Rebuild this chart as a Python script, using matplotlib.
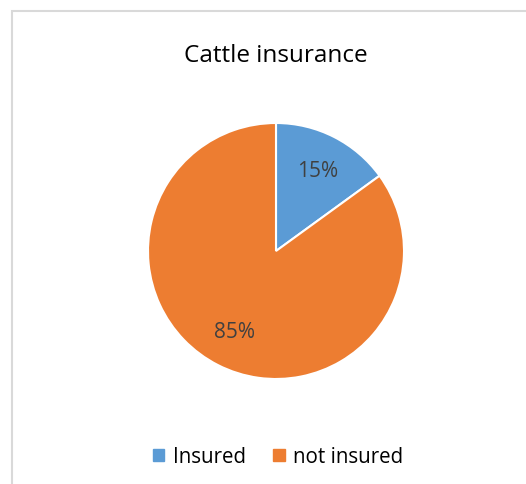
import matplotlib.pyplot as plt
from matplotlib.patches import Rectangle, Patch

# data
labels = ["Insured", "not insured"]
shares = [15, 85]
colors = ["#5B9BD5", "#ED7D31"]
title = "Cattle insurance"

W, H = 526, 485
plt.rcParams['font.family'] = ['Open Sans', 'DejaVu Sans']

fig = plt.figure(figsize=(W / 100, H / 100), dpi=100)

# chart border (light gray, runs off right/bottom)
fig.patches.append(Rectangle((12 / W, -0.1), 2, (H - 12) / H + 0.1,
                             transform=fig.transFigure, fill=False,
                             edgecolor="#D9D9D9", linewidth=1.5))

# pie axes: center (276, 252), radius 128 px
cx, cy, r = 276, 252, 128
ax = fig.add_axes([(cx - r) / W, (H - cy - r) / H, 2 * r / W, 2 * r / H])
wedges, texts, autotexts = ax.pie(
    shares, colors=colors, startangle=90, counterclock=False,
    autopct='%d%%', pctdistance=0.71,
    wedgeprops=dict(edgecolor="white", linewidth=1.5),
    textprops=dict(color="#404040", fontsize=15))
ax.set_xlim(-1, 1)
ax.set_ylim(-1, 1)

fig.text(276 / W, 1 - 56 / H, title, ha="center", va="center",
         fontsize=17.5, color="black")

handles = [Patch(facecolor=c, edgecolor=c) for c in colors]
fig.legend(handles, labels, loc="center", bbox_to_anchor=(278 / W, 1 - 458 / H),
           ncol=2, frameon=False, fontsize=14.8, handlelength=0.55,
           handleheight=0.55, handletextpad=0.4, columnspacing=1.35)

fig.savefig("out.png", dpi=100)
